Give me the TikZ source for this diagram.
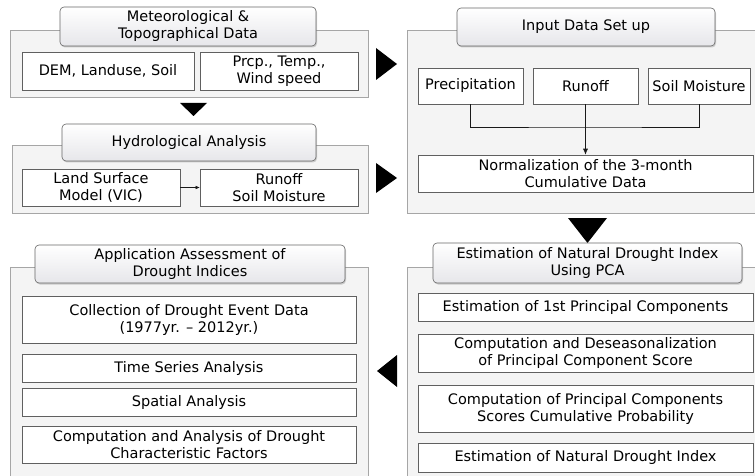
\documentclass[tikz,border=0pt]{standalone}
\usepackage{fontspec}
\setmainfont{DejaVu Sans}
\usetikzlibrary{shadows,arrows.meta}

\begin{document}
\begin{tikzpicture}[x=1pt,y=-1pt,
		panel/.style={draw=gray!70,fill=gray!9,line width=0.8pt},
		titlebox/.style={draw=gray!80!black,rounded corners=4pt,top color=white,bottom color=blue!8!gray!18,
			drop shadow={shadow xshift=1pt,shadow yshift=-1.5pt,opacity=0.35},align=center,inner sep=0pt,line width=0.6pt},
		itembox/.style={draw=gray!75!black,fill=white,align=center,inner sep=0pt,line width=0.6pt},
		every node/.style={font=\fontsize{14.5}{17}\selectfont}]
		\clip (0,0) rectangle (755,476);
		\draw[panel] (10,30) rectangle (368,97);
		\node[titlebox,minimum width=256,minimum height=39] (metdata) at (188,26.5) {Meteorological \&\\Topographical Data};
		\node[itembox,minimum width=172,minimum height=38] (dem) at (108,71) {DEM, Landuse, Soil};
		\node[itembox,minimum width=158,minimum height=38] (prcp) at (279,71) {Prcp., Temp.,\\Wind speed};
		\fill (180,103) -- (207,103) -- (193.5,116) -- cycle;
		\draw[panel] (12,145) rectangle (368,213);
		\node[titlebox,minimum width=254,minimum height=37] (hydro) at (189,142.5) {Hydrological Analysis};
		\node[itembox,minimum width=158,minimum height=37] (lsm) at (101,187.5) {Land Surface\\Model (VIC)};
		\node[itembox,minimum width=158,minimum height=37] (runsoil) at (279,187.5) {Runoff\\Soil Moisture};
		\draw[-{Latex[length=4pt,width=3.5pt]},gray!20!black] (lsm) -- (runsoil);
		\fill (376,48) -- (397,64) -- (376,80) -- cycle;
		\fill (376,163) -- (397,178) -- (376,193) -- cycle;
		\draw[panel] (407,30) rectangle (760,213);
		\node[titlebox,minimum width=258,minimum height=38] (inputset) at (586,27) {Input Data Set up};
		\node[itembox,minimum width=105,minimum height=36] (precip) at (470.5,86) {Precipitation};
		\node[itembox,minimum width=105,minimum height=36] (runoff) at (585.5,86) {Runoff};
		\node[itembox,minimum width=102,minimum height=36] (soilm) at (699,86) {Soil Moisture};
		\node[itembox,minimum width=335,minimum height=37] (normal) at (585.5,173.5) {Normalization of the 3-month\\Cumulative Data};
		\coordinate (merge) at (585.5,127);
		\draw[gray!20!black,line width=0.7pt] (precip) |- (merge) -| (soilm);
		\draw[-{Latex[length=6pt,width=5pt]},gray!20!black,line width=0.7pt] (runoff) -- (normal);
		\fill (568,218) -- (607,218) -- (587.5,243) -- cycle;
		\draw[panel] (407,267) rectangle (760,490);
		\node[titlebox,minimum width=309,minimum height=40] (pcatitle) at (587.5,263) {Estimation of Natural Drought Index\\Using PCA};
		\node[itembox,minimum width=335,minimum height=28] (pc1) at (585.5,307) {Estimation of 1st Principal Components};
		\node[itembox,minimum width=335,minimum height=38] (deseas) at (585.5,353) {Computation and Deseasonalization\\of Principal Component Score};
		\node[itembox,minimum width=335,minimum height=47] (cumprob) at (585.5,408.5) {Computation of Principal Components\\Scores Cumulative Probability};
		\node[itembox,minimum width=335,minimum height=29] (ndi) at (585.5,457.5) {Estimation of Natural Drought Index};
		\fill (397,355) -- (377,371) -- (397,387) -- cycle;
		\draw[panel] (10,267) rectangle (368,490);
		\node[titlebox,minimum width=310,minimum height=38] (assess) at (190,264) {Application Assessment of\\Drought Indices};
		\node[itembox,minimum width=334,minimum height=47] (events) at (189,319.5) {Collection of Drought Event Data\\(1977yr. -- 2012yr.)};
		\node[itembox,minimum width=334,minimum height=28] (timeser) at (189,368) {Time Series Analysis};
		\node[itembox,minimum width=334,minimum height=28] (spatial) at (189,402) {Spatial Analysis};
		\node[itembox,minimum width=334,minimum height=37] (factors) at (189,444.5) {Computation and Analysis of Drought\\Characteristic Factors};
	\end{tikzpicture}
\end{document}
